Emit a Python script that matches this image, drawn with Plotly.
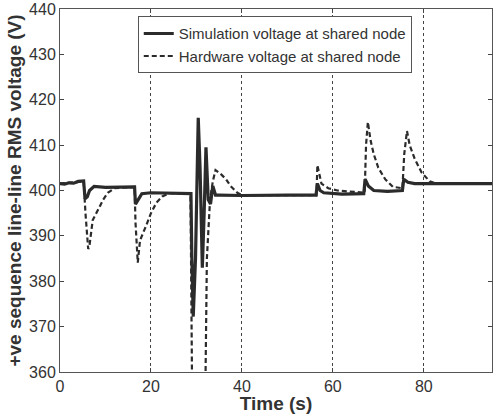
import plotly.graph_objects as go

# Simulation voltage at shared node (solid)
sim_t = [0, 1, 2, 3, 4, 5.2, 5.5, 6.0, 6.5, 7.5, 10, 14, 16.4, 16.6, 17.2, 18, 20, 25, 28.8,
         29.0, 29.3, 29.8, 30.4, 30.8, 31.3, 31.7, 32.1, 32.6, 33.1, 33.6, 34.2, 35, 40, 50,
         56.3, 56.6, 57.2, 58, 62, 66.8, 67.1, 67.8, 69, 72, 75.3, 75.6, 76.5, 78, 85, 95]
sim_v = [401.5, 401.4, 401.7, 401.6, 402.0, 402.1, 398.2, 398.6, 400.0, 400.9, 400.7, 400.8, 400.8,
         397.0, 398.0, 399.3, 399.5, 399.4, 399.3,
         385.0, 372.2, 385.0, 416.0, 405.0, 383.0, 395.0, 409.5, 398.0, 397.0, 401.0, 399.0, 399.0, 398.9, 399.0,
         399.0, 401.5, 400.0, 399.5, 399.2, 399.3, 402.5, 401.0, 400.0, 399.8, 400.0, 402.5, 401.8, 401.5, 401.5, 401.5]

# Hardware voltage at shared node (dashed)
hw_t = [0, 5.2, 5.6, 6.2, 6.5, 7.2, 8.5, 9.5, 10.5, 12, 16.4, 16.6, 17.1, 17.6, 19.0, 20, 21.2, 22.5, 24,
        28.7, 29.1, 31.9, 32.3, 33.0, 33.6, 34.2, 35.5, 36.5, 37.5, 39, 40,
        56.4, 56.6, 56.9, 57.5, 59, 61,
        67.0, 67.3, 67.7, 68.3, 69, 70, 71.5, 73.2, 75.3,
        75.7, 76.3, 76.9, 78, 79.5, 81.3, 83, 95]
hw_v = [401.5, 402.0, 395.0, 387.1, 388.0, 393.5, 396.0, 398.0, 399.5, 400.5, 400.8, 393.0, 384.1, 389.0, 392.4, 395.0, 397.3, 398.7, 399.4,
        399.3, 350.0, 350.0, 385.0, 398.0, 402.0, 404.5, 403.5, 402.5, 401.0, 399.5, 399.0,
        399.0, 405.6, 404.0, 401.5, 400.5, 400.0,
        399.5, 410.0, 415.1, 411.0, 408.0, 405.0, 402.5, 400.8, 400.5,
        408.0, 413.1, 410.0, 407.0, 404.0, 402.0, 401.5, 401.5]

x_ticks = [0, 20, 40, 60, 80]
y_ticks = [360, 370, 380, 390, 400, 410, 420, 430, 440]

fig = go.Figure()
fig.add_trace(go.Scatter(x=hw_t, y=hw_v, mode="lines", name="Hardware voltage at shared node",
                         line=dict(color="#2b2b2b", width=2.2, dash="5px,3px")))
fig.add_trace(go.Scatter(x=sim_t, y=sim_v, mode="lines", name="Simulation voltage at shared node",
                         line=dict(color="#2b2b2b", width=3.2)))

fig.update_layout(
    width=498, height=414,
    margin=dict(l=60, r=6, t=9, b=42),
    paper_bgcolor="white", plot_bgcolor="white",
    font=dict(family="Liberation Sans, Arial, sans-serif", size=16, color="#333"),
    showlegend=True,
    legend=dict(x=0.18, y=0.98, xanchor="left", yanchor="top",
                bgcolor="white", bordercolor="#555", borderwidth=1,
                traceorder="reversed", font=dict(size=15, color="#333"),
                itemwidth=30, tracegroupgap=0),
    xaxis=dict(range=[0, 95], tickvals=x_ticks, ticks="inside", ticklen=4,
               showline=True, linecolor="#555", linewidth=1, mirror="ticks",
               showgrid=True, gridcolor="#444", griddash="dot", gridwidth=1,
               zeroline=False, automargin=False,
               tickfont=dict(size=16),
               title=dict(text="<b>Time (s)</b>", font=dict(size=19), standoff=0)),
    yaxis=dict(range=[360, 440], tickvals=y_ticks, ticks="inside", ticklen=4,
               showline=True, linecolor="#555", linewidth=1, mirror="ticks",
               showgrid=False, zeroline=False, automargin=False,
               tickfont=dict(size=16),
               title=dict(text="<b>+ve sequence line-line RMS voltage (V)</b>", font=dict(size=19), standoff=2)),
)

fig.write_html("out.html")
